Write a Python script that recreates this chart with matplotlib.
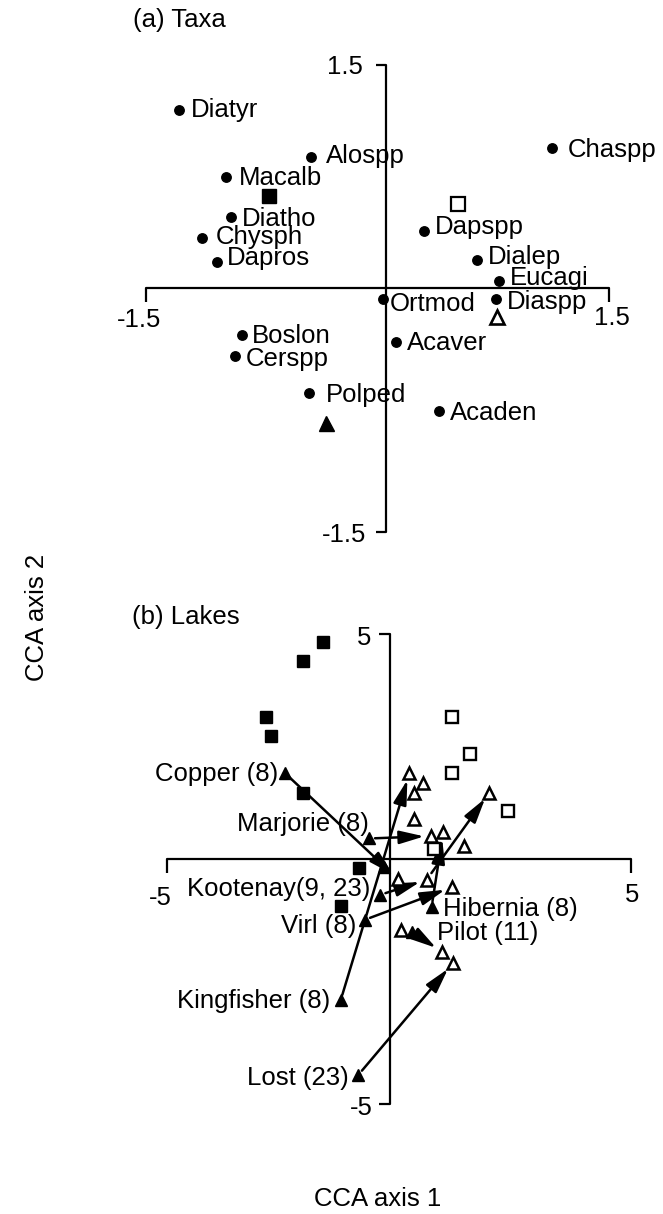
import matplotlib
matplotlib.use('Agg')
import matplotlib.pyplot as plt

plt.rcParams['font.family'] = ['Liberation Sans', 'DejaVu Sans']

W, H = 663, 1214
FS = 18.5
PT = 0.72   # points per pixel at dpi 100

# ---------------- (a) Taxa ----------------
taxa = ['Diatyr', 'Alospp', 'Macalb', 'Diatho', 'Chysph', 'Dapros', 'Boslon',
        'Cerspp', 'Polped', 'Ortmod', 'Chaspp', 'Dapspp', 'Dialep', 'Eucagi',
        'Diaspp', 'Acaver', 'Acaden']
taxa_x = [-1.285, -0.432, -0.98, -0.95, -1.138, -1.041, -0.879, -0.922, -0.441,
          0.038, 1.127, 0.301, 0.642, 0.786, 0.767, 0.12, 0.398]
taxa_y = [1.21, 0.91, 0.778, 0.52, 0.386, 0.235, -0.236, -0.369, -0.611,
          -0.006, 0.964, 0.434, 0.246, 0.113, -0.006, -0.279, -0.722]

# group centroids in taxa space
cent_fsq = (-0.70, 0.657)
cent_osq = (0.523, 0.606)
cent_ftri = (-0.335, -0.803)
cent_otri = (0.771, -0.118)

# ---------------- (b) Lakes ----------------
fsq_x = [-1.64, -2.06, -2.86, -2.76, -2.06, -0.85, -1.25]
fsq_y = [4.85, 4.44, 3.25, 2.83, 1.63, 0.03, -0.78]
osq_x = [1.14, 1.54, 1.14, 2.36, 0.75]
osq_y = [3.25, 2.45, 2.05, 1.24, 0.43]
otri_x = [0.23, 0.52, 0.34, 0.34, 0.70, 0.96, 1.41, 1.95, -0.01, 0.60, 1.14,
          0.04, 0.93, 1.16]
otri_y = [2.05, 1.83, 1.62, 1.07, 0.71, 0.80, 0.50, 1.63, -0.21, -0.22, -0.38,
          -1.29, -1.75, -2.0]

lakes = ['Copper (8)', 'Marjorie (8)', 'Kootenay(9, 23)', 'Virl (8)',
         'Kingfisher (8)', 'Lost (23)', 'Hibernia (8)', 'Pilot (11)']
lake_x0 = [-2.45, -0.63, -0.40, -0.73, -1.25, -0.87, 0.71, 0.28]
lake_y0 = [2.05, 0.66, -0.54, -1.07, -2.78, -4.37, -0.79, -1.32]
lake_x1 = [-0.01, 0.70, 0.60, 1.14, 0.23, 1.16, 0.96, 0.93]
lake_y1 = [-0.21, 0.71, -0.22, -0.38, 2.05, -2.0, 0.80, -1.75]

# second Kootenay sample
koot2_start = (-0.31, 0.06)
koot2_arrow = ((0.60, -0.22), (1.95, 1.63))

# label offsets in pixels (dx, dy below)
taxa_off = [(11.7, 7.3), (15, 6.7), (13, 7.7), (11, 9), (14, 6), (10, 3.3),
            (10, 8.3), (11, 10), (16.7, 8.3), (6, 11.4), (15.7, 8.3), (11, 3.3),
            (11.7, 4), (11, 4.3), (10.7, 10), (10.7, 8.3), (11, 9.3)]
lake_off = [(-6.7, 8), (-1, -7), (-10, 1), (-8, 13), (-10.7, 8), (-10, 10),
            (11.6, 9), (25, 8.3)]
lake_ha = ['right'] * 6 + ['left'] * 2


def drawCross(ax, xc, yc, lim, dx_tick, dy_tick):
    '''Draws the bracket-like axes crossing at (xc, yc).'''
    kw = dict(color='black', lw=1.6, solid_capstyle='butt', zorder=1)
    ax.plot([-lim, -lim, lim, lim], [yc - dy_tick, yc, yc, yc - dy_tick], **kw)
    ax.plot([xc - dx_tick, xc, xc, xc - dx_tick], [lim, lim, -lim, -lim], **kw)


def tickLabel(ax, txt, xy, dx, dy, ha):
    ax.annotate(txt, xy, xytext=(dx * PT, -dy * PT), textcoords='offset points',
                ha=ha, va='baseline', fontsize=FS)


fig = plt.figure(figsize=(W / 100, H / 100), dpi=100)

# panel a
axA = fig.add_axes([0, 614 / H, 1, 600 / H])
axA.set_xlim(-2.443, 1.848)
axA.set_ylim(-1.939, 1.917)
axA.axis('off')
xcA, ycA = 0.058, 0.064
drawCross(axA, xcA, ycA, 1.5, 0.07, 0.085)
tickLabel(axA, '1.5', (xcA, 1.5), -23.5, 9, 'right')
tickLabel(axA, '-1.5', (xcA, -1.5), -19.8, 10.3, 'right')
tickLabel(axA, '-1.5', (-1.5, ycA), -6.4, 38.7, 'center')
tickLabel(axA, '1.5', (1.5, ycA), 2.7, 36.7, 'center')

axA.plot(taxa_x, taxa_y, 'o', color='black', ms=6.8, ls='none', zorder=3)
for name, x, y, (dx, dy) in zip(taxa, taxa_x, taxa_y, taxa_off):
    axA.annotate(name, (x, y), xytext=(dx * PT, -dy * PT), textcoords='offset points',
                 ha='left', va='baseline', fontsize=FS, zorder=4)
axA.plot(*cent_fsq, 's', color='black', ms=10.5, zorder=3)
axA.plot(*cent_osq, 's', mfc='white', mec='black', mew=1.6, ms=10, zorder=3)
axA.plot(*cent_ftri, '^', color='black', ms=10.8, zorder=3)
axA.plot(*cent_otri, '^', mfc='white', mec='black', mew=1.9, ms=9.5, zorder=3)

# panel b
axB = fig.add_axes([0, 0, 1, 614 / H])
axB.set_xlim(-8.593, 5.696)
axB.set_ylim(-7.33, 5.734)
axB.axis('off')
xcB, ycB = -0.194, 0.217
drawCross(axB, xcB, ycB, 5, 0.24, 0.3)
tickLabel(axB, '5', (xcB, 5), -18, 10.5, 'right')
tickLabel(axB, '-5', (xcB, -5), -16.7, 10.5, 'right')
tickLabel(axB, '-5', (-5, ycB), -6.7, 45.7, 'center')
tickLabel(axB, '5', (5, ycB), 1, 42.4, 'center')

arrow_kw = dict(arrowstyle='-|>,head_length=1.5,head_width=0.4', color='black',
                lw=1.8, shrinkA=4, shrinkB=5, mutation_scale=10)
for x0, y0, x1, y1 in zip(lake_x0, lake_y0, lake_x1, lake_y1):
    axB.annotate('', xy=(x1, y1), xytext=(x0, y0), arrowprops=arrow_kw, zorder=2)
kw2 = dict(arrow_kw)
kw2['shrinkA'] = 6
axB.annotate('', xy=koot2_arrow[1], xytext=koot2_arrow[0], arrowprops=kw2, zorder=2)

axB.plot(fsq_x, fsq_y, 's', color='black', ms=8.8, ls='none', zorder=3)
axB.plot(osq_x, osq_y, 's', mfc='white', mec='black', mew=1.7, ms=8, ls='none', zorder=3)
axB.plot(otri_x, otri_y, '^', mfc='white', mec='black', mew=1.8, ms=8.2, ls='none', zorder=3)
axB.plot(lake_x0, lake_y0, '^', color='black', ms=9, ls='none', zorder=3)
axB.plot(*koot2_start, '^', color='black', ms=9, zorder=3)
for name, x, y, (dx, dy), ha in zip(lakes, lake_x0, lake_y0, lake_off, lake_ha):
    axB.annotate(name, (x, y), xytext=(dx * PT, -dy * PT), textcoords='offset points',
                 ha=ha, va='baseline', fontsize=FS, zorder=4)

# titles and axis names
fig.text(133 / W, 1 - 27 / H, '(a) Taxa', ha='left', va='baseline', fontsize=FS)
fig.text(132 / W, 1 - 624 / H, '(b) Lakes', ha='left', va='baseline', fontsize=FS)
fig.text(36.5 / W, 1 - 617 / H, 'CCA axis 2', rotation=90, ha='center', va='center',
         fontsize=FS)
fig.text(378 / W, 1 - 1206 / H, 'CCA axis 1', ha='center', va='baseline', fontsize=FS)

fig.savefig('out.png', dpi=100, facecolor='white')
